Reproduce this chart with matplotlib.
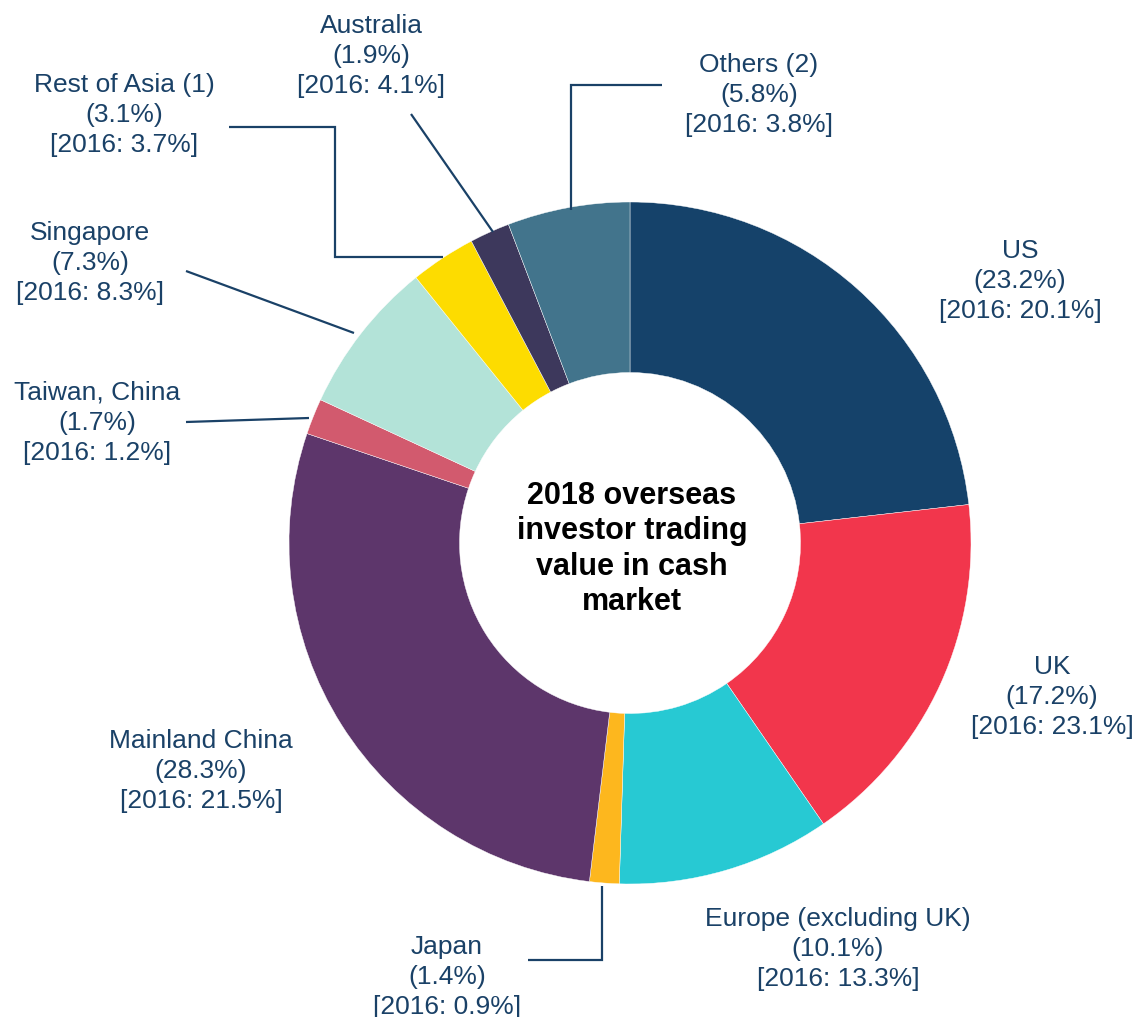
import matplotlib
matplotlib.use("Agg")
import matplotlib.pyplot as plt

plt.rcParams['font.family'] = ['Liberation Sans', 'DejaVu Sans']

categories = ["US", "UK", "Europe (excluding UK)", "Japan", "Mainland China",
              "Taiwan, China", "Singapore", "Rest of Asia (1)", "Australia", "Others (2)"]
share_2018 = [23.2, 17.2, 10.1, 1.4, 28.3, 1.7, 7.3, 3.1, 1.9, 5.8]
share_2016 = [20.1, 23.1, 13.3, 0.9, 21.5, 1.2, 8.3, 3.7, 4.1, 3.8]
colors = ["#15426A", "#F2364C", "#27C9D3", "#FDB71E", "#5D366B",
          "#D25A6E", "#B3E3D8", "#FDDC00", "#3D385C", "#42748C"]
center_title = "2018 overseas\ninvestor trading\nvalue in cash\nmarket"

W, H = 1137, 1017
CX, CY, R = 630, 543, 341
TXT = "#1A4167"

fig = plt.figure(figsize=(W / 100, H / 100), dpi=100)
ax = fig.add_axes([0, 0, 1, 1])

ax.pie(share_2018, colors=colors, startangle=90, counterclock=False, radius=1,
       wedgeprops=dict(width=0.5, edgecolor='white', linewidth=0.3))

ax.set_xlim(-CX / R, (W - CX) / R)
ax.set_ylim(-(H - CY) / R, CY / R)
ax.set_aspect('equal')
ax.axis('off')


def px(x, y):
    return (x - CX) / R, (CY - y) / R


# label centres (pixels)
label_pos = {
    "US": (1020, 281),
    "UK": (1052, 697),
    "Europe (excluding UK)": (838, 949),
    "Japan": (447, 977),
    "Mainland China": (201, 771),
    "Taiwan, China": (97, 423),
    "Singapore": (90, 263),
    "Rest of Asia (1)": (124, 115),
    "Australia": (371, 56),
    "Others (2)": (759, 95),
}

for cat, v, p in zip(categories, share_2018, share_2016):
    x, y = px(*label_pos[cat])
    ax.text(x, y, f"{cat}\n({v:.1f}%)\n[2016: {p:.1f}%]", ha='center', va='center',
            fontsize=19, color=TXT, linespacing=1.32)

# connector lines (pixels)
connectors = [
    [(571, 210), (571, 85), (662, 85)],
    [(229, 127), (335, 127), (335, 257), (443, 257)],
    [(411, 114), (493, 232)],
    [(186, 271), (354, 333)],
    [(186, 422), (309, 418)],
    [(602, 886), (602, 960), (528, 960)],
]
for path in connectors:
    pts = [px(*q) for q in path]
    ax.plot([q[0] for q in pts], [q[1] for q in pts], color=TXT, lw=1.6,
            solid_capstyle='butt', solid_joinstyle='miter')

tx, ty = px(632, 549)
ax.text(tx, ty, center_title, ha='center', va='center', fontsize=22,
        fontweight='bold', color='black', linespacing=1.24)

fig.savefig("out.png", dpi=100)
